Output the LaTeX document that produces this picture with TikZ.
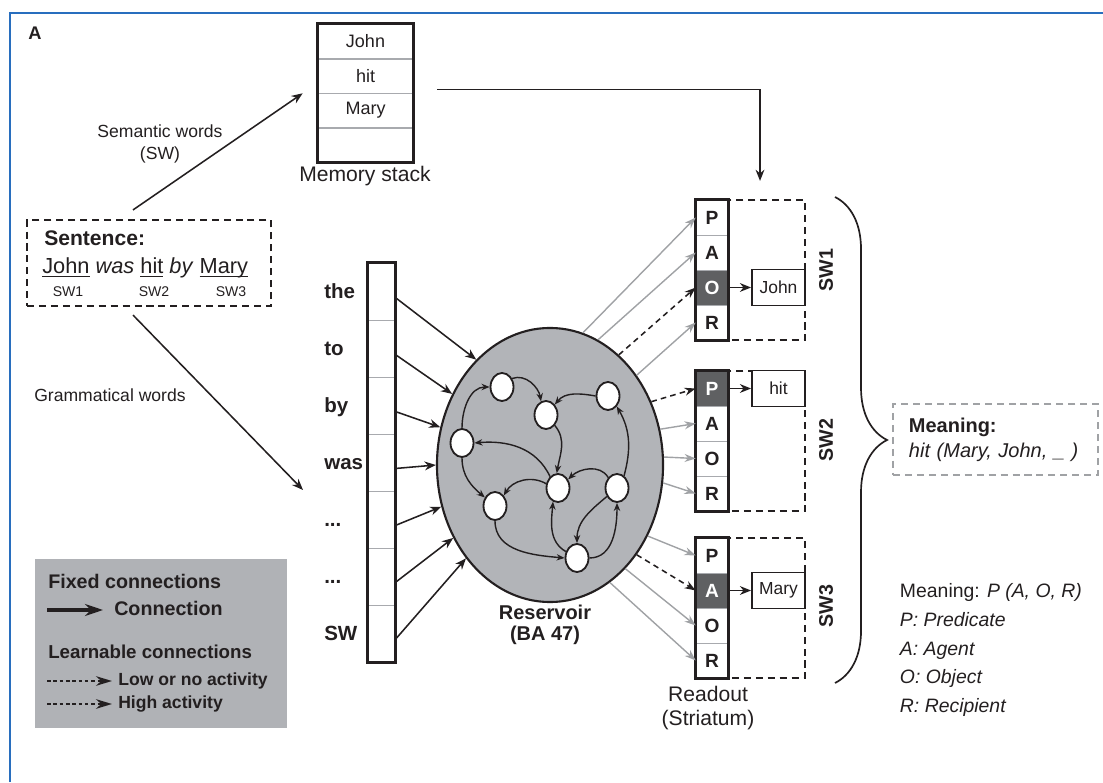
\documentclass[tikz,border=0pt]{standalone}
\usepackage{fontspec}
\setmainfont{Liberation Sans}
\usepackage{xcolor}
\usepackage{tikz}
\usetikzlibrary{shapes.geometric,arrows.meta,positioning,calc,decorations.pathreplacing}
\definecolor{ink}{RGB}{35,31,32}
\definecolor{frameblue}{RGB}{40,110,190}
\definecolor{resgray}{RGB}{178,180,184}
\definecolor{leggray}{RGB}{176,178,182}
\definecolor{hotcell}{RGB}{95,96,98}
\definecolor{divgray}{RGB}{168,170,174}
\definecolor{lowgray}{RGB}{160,162,165}
\newcommand{\setfs}[2]{\fontsize{#1}{#2}\selectfont}
\newcommand{\threedots}{...}
\tikzset{
  fixed/.style={-{Stealth[length=2.8mm,width=2.2mm]},line width=1.1pt,draw=ink},
  low/.style={-{Stealth[length=2.8mm,width=2mm]},line width=1pt,draw=lowgray},
  high/.style={-{Stealth[length=2.8mm,width=2mm]},line width=1.1pt,draw=ink,dash pattern=on 4pt off 3pt},
  syn/.style={-{Stealth[length=2mm,width=1.6mm]},line width=1pt,draw=ink},
  divider/.style={draw=divgray,line width=1.1pt},
  stackframe/.style={draw=ink,line width=2.2pt},
  colframe/.style={draw=ink,line width=1.8pt},
  stackcell/.style={rectangle,minimum width=2.375cm,minimum height=0.8625cm,inner sep=0pt,font=\setfs{12.8}{15}},
  wcell/.style={rectangle,minimum width=0.675cm,minimum height=1.425cm,inner sep=0pt},
  wlab/.style={anchor=base west,inner sep=0pt,font=\bfseries\setfs{14.6}{17}},
  cell/.style={rectangle,minimum width=0.8cm,minimum height=0.875cm,inner sep=0pt,font=\bfseries\setfs{13.6}{15}},
  grpbox/.style={rectangle,draw=ink,line width=1.5pt,dash pattern=on 5pt off 3.5pt,
              minimum width=2.725cm,minimum height=3.5cm},
  valbox/.style={rectangle,draw=ink,line width=1.3pt,fill=white,minimum width=1.325cm,
              minimum height=0.9cm,inner sep=0pt,font=\setfs{12.4}{14}},
  sentbox/.style={rectangle,draw=ink,line width=1.5pt,dash pattern=on 5pt off 3.5pt,
              minimum width=6.1cm,minimum height=2.15cm},
  reservoir/.style={ellipse,draw=ink,line width=1.5pt,fill=resgray,
              minimum width=5.65cm,minimum height=6.85cm},
  neuron/.style={ellipse,draw=ink,line width=1.3pt,fill=white,minimum width=0.575cm,
              minimum height=0.7cm,inner sep=0pt},
  swtag/.style={rotate=90,font=\bfseries\setfs{14}{16}},
  note/.style={align=center,font=\setfs{12.5}{15.5}},
  legtext/.style={anchor=base west,inner sep=0pt,font=\bfseries\setfs{14}{16}},
  legsmall/.style={legtext,font=\bfseries\setfs{12.5}{14}},
  legfixed/.style={-{Stealth[length=4.5mm,width=3mm]},line width=2.6pt,draw=ink},
  legdash/.style={-{Stealth[length=4mm,width=2.4mm]},line width=1.3pt,draw=ink,dash pattern=on 2.5pt off 2pt},
  meanbox/.style={rectangle,draw=lowgray,line width=1.5pt,dash pattern=on 5pt off 3.5pt,
              text width=4.325cm,inner xsep=0.4cm,minimum height=1.775cm,align=left,
              font=\setfs{14.2}{17.7}},
}

\begin{document}
\begin{tikzpicture}[x=0.025cm,y=0.025cm,text=ink]
  \useasboundingbox (0,0) rectangle (1103,782);
  \draw[frameblue,line width=1.6pt] (10,0) -- (10,769) -- (1103,769);
  \node[font=\bfseries\setfs{13}{15}] (panel) at (35,749) {A};

  % memory stack
  \foreach \w [count=\i] in {John,hit,Mary,{}}
    \node[stackcell] (s\i) at (365.5,{758-17.25-34.5*(\i-1)}) {\w};
  \foreach \i in {1,2,3}
    \draw[divider] (s\i.south west) -- (s\i.south east);
  \draw[stackframe] (s1.north west) rectangle (s4.south east);
  \node[font=\setfs{15}{18}] (stacklab) at (365,606) {Memory stack};

  % sentence
  \node[sentbox] (sent) at (149,519) {};
  \node[anchor=base west,inner sep=0pt,font=\bfseries\setfs{15}{18}] (senthead) at (44,536) {Sentence:};
  \node[anchor=base west,inner sep=0pt,font=\setfs{15.5}{18}] (sentline) at (42,508)
    {\underline{\smash{John}} \textit{was} \underline{\smash{hit}} \textit{by} \underline{\smash{Mary}}};
  \node[font=\setfs{10}{12}] (swa) at (68,490) {SW1};
  \node[font=\setfs{10}{12}] (swb) at (154,490) {SW2};
  \node[font=\setfs{10}{12}] (swc) at (231,490) {SW3};

  \draw[fixed] ([xshift=-0.4cm,yshift=0.225cm]sent.north) -- ([xshift=-0.375cm]s2.south west);
  \node[note] (semlab) at (160,638) {Semantic words\\(SW)};
  \coordinate (gramend) at (303,292);
  \draw[fixed] ([xshift=-0.4cm,yshift=-0.2cm]sent.south) -- (gramend);
  \node[note] (gramlab) at (110,387) {Grammatical words};

  % grammatical word input
  \foreach \w [count=\i] in {the,to,by,was,\threedots,\threedots,SW} {
    \node[wcell] (w\i) at (381.5,{490.5-57*(\i-1)}) {};
    \node[wlab] (lab\i) at (324,{483-57*(\i-1)}) {\w};
  }
  \foreach \i in {1,...,6}
    \draw[divider] (w\i.south west) -- (w\i.south east);
  \draw[colframe,line width=2pt] (w1.north west) rectangle (w7.south east);

  % reservoir
  \node[reservoir] (res) at (550,317) {};
  \node[align=center,font=\bfseries\setfs{14.2}{14.5}] (reslab) at (545,157) {Reservoir\\(BA 47)};
  \foreach \n/\x/\y in {1/502/395,2/546/367,3/608/386,4/462/339,5/495/276,6/558/294,7/617/294,8/577/224}
    \node[neuron] (n\n) at (\x,\y) {};
  \draw[syn] (n4.north) to[out=90,in=180] (n1.west);
  \draw[syn] (n1.40) to[out=20,in=100] (n2.110);
  \draw[syn] (n3.west) to[out=170,in=50] (n2.50);
  \draw[syn] (n2.-50) to[out=-50,in=80] (n6.95);
  \draw[syn] (n6.125) to[out=115,in=5] (n4.east);
  \draw[syn] (n4.south) to[out=-90,in=140] (n5.140);
  \draw[syn] (n6.160) to[out=150,in=60] (n5.50);
  \draw[syn] (n5.south) to[out=-90,in=175] (n8.west);
  \draw[syn] (n8.150) to[out=150,in=-95] (n6.-110);
  \draw[syn] (n8.east) to[out=0,in=-90] (n7.south);
  \draw[syn] (n7.-140) to[out=-140,in=90] (n8.north);
  \draw[syn] (n7.130) to[out=120,in=45] (n6.40);
  \draw[syn] (n7.60) to[out=75,in=-60] (n3.-50);

  \foreach \i/\a in {1/125,2/144,3/161,4/180,5/201,6/217,7/228}
    \draw[fixed] ([yshift=-0.15cm]w\i.east) -- (res.\a);

  % readout
  \foreach \g/\t/\hot in {1/582/O,2/411/P,3/244/A} {
    \node[grpbox] (sw\g) at (750.5,{\t-70}) {};
    \foreach \l [count=\i] in {P,A,O,R} {
      \ifx\l\hot \def\fc{hotcell}\def\tc{white}\else \def\fc{white}\def\tc{ink}\fi
      \node[cell,fill=\fc,text=\tc] (g\g\l) at (712,{\t-17.5-35*(\i-1)}) {\l};
    }
    \foreach \l in {P,A,O}
      \draw[divider] (g\g\l.south west) -- (g\g\l.south east);
    \draw[colframe] (g\g P.north west) rectangle (g\g R.south east);
  }
  \node[valbox] (v1) at (778.5,494.5) {John};
  \node[valbox] (v2) at (778.5,393.5) {hit};
  \node[valbox] (v3) at (778.5,191.5) {Mary};
  \draw[fixed] (g1O.east) -- (v1.west);
  \draw[fixed] (g2P.east) -- (v2.west);
  \draw[fixed] (g3A.east) -- (v3.west);
  \node[swtag] (tag1) at (826,512) {SW1};
  \node[swtag] (tag2) at (826,342) {SW2};
  \node[swtag] (tag3) at (826,176) {SW3};
  \node[align=center,font=\setfs{15}{17.5}] (readlab) at (708,74) {Readout\\(Striatum)};

  \foreach \a/\c in {76/g1P,69/g1A,46/g1R,18/g2A,4/g2O,-9/g2R,-36/g3P,-54/g3O,-63/g3R}
    \draw[low] (res.\a) -- (\c.west);
  \foreach \a/\c in {58/g1O,32/g2P,-46/g3A}
    \draw[high] (res.\a) -- (\c.west);

  \draw[fixed] ([xshift=0.6cm,yshift=0.1cm]s2.south east) -| ([xshift=0.2375cm,yshift=0.45cm]sw1.north);

  % meaning
  \draw[ink,line width=1.2pt,decorate,decoration={brace,amplitude=1.3cm}] (835,585) -- (835,99);
  \node[meanbox] (meaning) at (995.5,342.5) {\textbf{Meaning:}\\\textit{hit (Mary, John, \_ )}};
  \node[anchor=west,align=left,font=\setfs{13.8}{20.5}] (roles) at (895,132)
    {Meaning: \textit{P (A, O, R)}\\\textit{P: Predicate}\\\textit{A: Agent}\\\textit{O: Object}\\\textit{R: Recipient}};

  % legend
  \node[rectangle,fill=leggray,minimum width=6.3cm,minimum height=4.225cm] (legend) at (161,138.5) {};
  \node[legtext] (lfix) at (48,193) {Fixed connections};
  \coordinate (la1) at (47,172);
  \coordinate (la2) at (103,172);
  \draw[legfixed] (la1) -- (la2);
  \node[legtext] (lcon) at (114,166) {Connection};
  \node[legtext,font=\bfseries\setfs{13.3}{15}] (llearn) at (48,123) {Learnable connections};
  \coordinate (lb1) at (47,101);
  \coordinate (lb2) at (112,101);
  \draw[legdash] (lb1) -- (lb2);
  \node[legsmall] (llow) at (118,96) {Low or no activity};
  \coordinate (lc1) at (47,78);
  \coordinate (lc2) at (112,78);
  \draw[legdash] (lc1) -- (lc2);
  \node[legsmall] (lhigh) at (118,73) {High activity};
\end{tikzpicture}
\end{document}
